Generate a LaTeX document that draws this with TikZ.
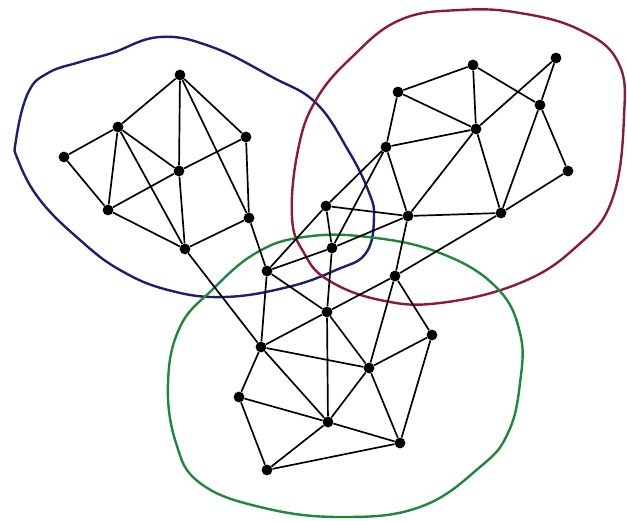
\documentclass[tikz,border=0pt]{standalone}
\usepackage{tikz}
\usetikzlibrary{positioning, calc}

\definecolor{blobblue}{RGB}{30,30,110}
\definecolor{blobred}{RGB}{140,25,60}
\definecolor{blobgreen}{RGB}{30,135,60}

\tikzset{
  dot/.style={circle, fill=black, inner sep=0pt, minimum size=0.27cm},
  edge/.style={line width=1.2pt, black},
  blob/.style={line width=1.7pt}
}

\begin{document}
\begin{tikzpicture}[x=0.025cm, y=-0.025cm]
    \useasboundingbox (0,0) rectangle (627,521);

    % 区域
    \draw[blob, blobblue] plot[smooth cycle, tension=0.7] coordinates {
      (16,140) (28,93) (48,73) (80,62) (112,53) (160,37) (212,47) (272,77)
      (316,103) (348,150) (368,190) (374,217) (366,253) (336,270) (288,287)
      (224,297) (168,290) (120,270) (80,240) (40,200) (18,160)};
    \draw[blob, blobred] plot[smooth cycle, tension=0.7] coordinates {
      (292,217) (298,150) (316,100) (352,57) (400,20) (460,10) (520,13)
      (580,30) (618,62) (624,117) (612,200) (576,247) (520,283) (440,303)
      (380,300) (328,280) (304,253)};
    \draw[blob, blobgreen] plot[smooth cycle, tension=0.7] coordinates {
      (180,327) (212,290) (256,253) (304,237) (368,237) (440,253) (496,287)
      (520,333) (520,383) (508,433) (480,467) (420,507) (340,517) (260,507)
      (200,483) (176,443) (168,383)};

    % 顶点
    \node[dot] (b1) at (180,75) {};
    \node[dot] (b2) at (118,127) {};
    \node[dot] (b3) at (64,157) {};
    \node[dot] (b4) at (246,137) {};
    \node[dot] (b5) at (179,171) {};
    \node[dot] (b6) at (108,210) {};
    \node[dot] (b7) at (249,218) {};
    \node[dot] (b8) at (185,249) {};

    \node[dot] (r1) at (386,147) {};
    \node[dot] (r2) at (398,92) {};
    \node[dot] (r3) at (473,65) {};
    \node[dot] (r4) at (556,58) {};
    \node[dot] (r5) at (540,105) {};
    \node[dot] (r6) at (476,129) {};
    \node[dot] (r7) at (568,171) {};
    \node[dot] (r8) at (501,213) {};

    \node[dot] (m1) at (267,271) {};
    \node[dot] (m2) at (326,206) {};
    \node[dot] (m3) at (332,248) {};
    \node[dot] (m4) at (408,216) {};
    \node[dot] (m5) at (395,276) {};
    \node[dot] (m6) at (327,312) {};

    \node[dot] (g1) at (261,347) {};
    \node[dot] (g2) at (432,335) {};
    \node[dot] (g3) at (369,368) {};
    \node[dot] (g4) at (239,397) {};
    \node[dot] (g5) at (328,422) {};
    \node[dot] (g6) at (400,443) {};
    \node[dot] (g7) at (267,470) {};

    % 边
    \draw[edge] (b1) -- (b2) (b1) -- (b5) (b1) -- (b4) (b1) -- (b7)
      (b2) -- (b3) (b2) -- (b6) (b2) -- (b5) (b2) -- (b8) (b3) -- (b6)
      (b6) -- (b5) (b5) -- (b4) (b5) -- (b8) (b6) -- (b8) (b4) -- (b7)
      (b7) -- (b8) (b8) -- (g1) (b7) -- (m1);
    \draw[edge] (r2) -- (r3) (r3) -- (r6) (r3) -- (r5) (r2) -- (r6)
      (r2) -- (r1) (r4) -- (r5) (r4) -- (r6) (r5) -- (r7) (r5) -- (r8)
      (r6) -- (r1) (r6) -- (r8) (r7) -- (r8) (r1) -- (m4) (r6) -- (m4)
      (r8) -- (m4) (r1) -- (m2) (r1) -- (m3);
    \draw[edge] (m1) -- (m2) (m1) -- (m3) (m3) -- (m4) (m2) -- (m3)
      (m3) -- (m6) (m2) -- (m4) (m1) -- (m6) (m1) -- (g1) (m4) -- (m5)
      (r8) -- (m5) (m5) -- (m6) (m5) -- (g2) (m5) -- (g3) (m6) -- (g1)
      (m6) -- (g3) (m6) -- (g5);
    \draw[edge] (g1) -- (g3) (g1) -- (g4) (g1) -- (g5) (g2) -- (g3)
      (g2) -- (g6) (g3) -- (g5) (g3) -- (g6) (g4) -- (g5) (g4) -- (g7)
      (g5) -- (g7) (g5) -- (g6) (g6) -- (g7);
\end{tikzpicture}
\end{document}
